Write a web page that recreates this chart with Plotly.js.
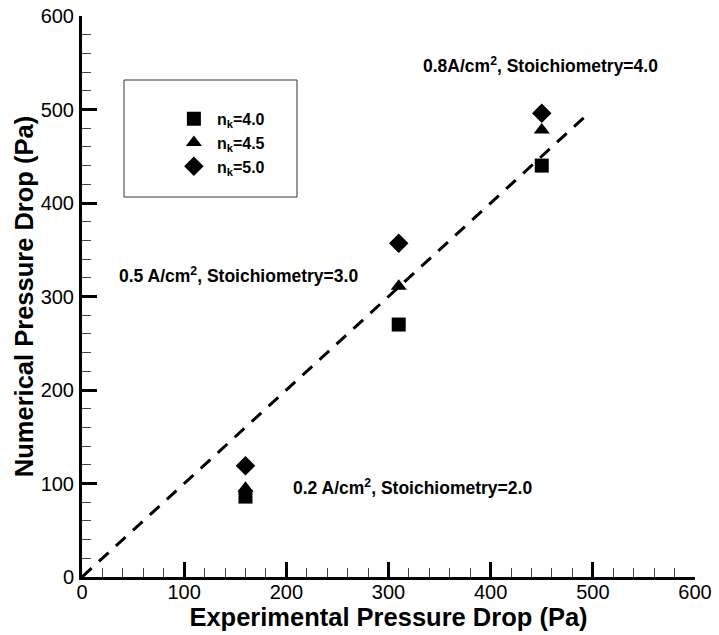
<!DOCTYPE html>
<html>
<head>
<meta charset="utf-8">
<script src="https://cdn.plot.ly/plotly-3.0.1.min.js"></script>
<style>html,body{margin:0;padding:0;background:#fff;}#chart{width:719px;height:635px;}</style>
</head>
<body>
<div id="chart"></div>
<script>
// Data
var expDrop = [160, 310, 450];
var nk40 = [86, 270, 440];
var nk45 = [95, 311, 478];
var nk50 = [119, 357, 496];
var refLineX = [0, 495];
var refLineY = [0, 495];
var seriesNames = ['n<sub>k</sub>=4.0', 'n<sub>k</sub>=4.5', 'n<sub>k</sub>=5.0'];
var annTexts = ['0.2 A/cm<sup>2</sup>, Stoichiometry=2.0', '0.5 A/cm<sup>2</sup>, Stoichiometry=3.0', '0.8A/cm<sup>2</sup>, Stoichiometry=4.0'];
var annX = [205, 34, 332];
var annY = [96, 323, 548];

var FONT = '"Liberation Sans", Arial, Helvetica, sans-serif';

var traces = [
  {x: refLineX, y: refLineY, mode: 'lines', showlegend: false,
   line: {color: '#000', width: 3, dash: '13px,10px'}, hoverinfo: 'skip'},
  {x: expDrop, y: nk40, mode: 'markers', name: seriesNames[0],
   marker: {symbol: 'square', size: 14, color: '#000'}},
  {x: expDrop, y: nk45, mode: 'markers', name: seriesNames[1],
   marker: {symbol: 'triangle-up', size: 14, color: '#000'}},
  {x: expDrop, y: nk50, mode: 'markers', name: seriesNames[2],
   marker: {symbol: 'diamond', size: 15, color: '#000'}}
];

var axisCommon = {
  range: [0, 600], dtick: 100, tick0: 0,
  showgrid: false, zeroline: false,
  showline: true, linecolor: '#000', linewidth: 3, mirror: false,
  ticks: 'inside', ticklen: 15, tickwidth: 3, tickcolor: '#000',
  tickfont: {family: FONT, size: 20, color: '#000'},
  minor: {dtick: 20, ticks: 'inside', ticklen: 9, tickwidth: 1, tickcolor: '#444', showgrid: false}
};

var layout = {
  width: 719, height: 635,
  margin: {l: 82, r: 24, t: 16, b: 58},
  paper_bgcolor: '#fff', plot_bgcolor: '#fff',
  font: {family: FONT, color: '#000'},
  xaxis: Object.assign({}, axisCommon, {
    title: {text: '<b>Experimental Pressure Drop (Pa)</b>', font: {family: FONT, size: 25.5, color: '#000'}, standoff: 0},
    ticklabelstandoff: -5
  }),
  yaxis: Object.assign({}, axisCommon, {
    title: {text: '<b>Numerical Pressure Drop (Pa)</b>', font: {family: FONT, size: 25.5, color: '#000'}, standoff: 0},
    ticklabelstandoff: 1
  }),
  showlegend: true,
  legend: {
    x: 0.145, y: 0.847, xanchor: 'left', yanchor: 'top',
    bgcolor: 'rgba(0,0,0,0)', borderwidth: 0, itemwidth: 36,
    font: {family: FONT, size: 16, color: '#000', weight: 'bold'},
    tracegroupgap: 0
  },
  shapes: [{
    type: 'rect', xref: 'paper', yref: 'paper',
    x0: (124 - 82) / 613, x1: (297 - 82) / 613,
    y0: (577 - 197) / 561, y1: (577 - 80) / 561,
    line: {color: '#333', width: 1}, fillcolor: 'rgba(0,0,0,0)'
  }],
  annotations: annTexts.map(function (t, i) {
    return {x: annX[i], y: annY[i], xref: 'x', yref: 'y', text: '<b>' + t + '</b>',
      showarrow: false, xanchor: 'left', yanchor: 'middle',
      font: {family: FONT, size: 17.5, color: '#000'}};
  })
};

Plotly.newPlot('chart', traces, layout, {displayModeBar: false, staticPlot: true});
</script>
</body>
</html>
